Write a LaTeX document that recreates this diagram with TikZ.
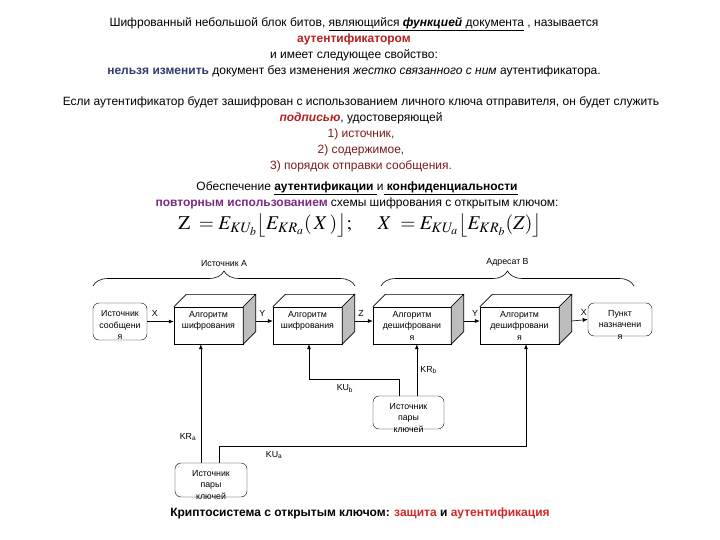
\documentclass[tikz,border=0pt]{standalone}
\usepackage{mathptmx}
\usepackage{fontspec}
\setmainfont{Liberation Sans}
\usepackage{tikz}
\usetikzlibrary{arrows.meta,positioning,calc,decorations.pathreplacing}
\definecolor{authred}{HTML}{B52020}
\definecolor{navy}{HTML}{2E3A6E}
\definecolor{maroon}{HTML}{7A1A1A}
\definecolor{violet}{HTML}{7B2A84}
\definecolor{capred}{HTML}{D02828}
\definecolor{sidegray}{HTML}{BDBDBD}
\newcommand{\sub}[1]{\textsubscript{#1}}

\begin{document}
\begin{tikzpicture}[x=1pt,y=-1pt,>={Latex[length=5pt,width=4pt]},
  para/.style={align=center,inner sep=0pt,font=\fontsize{12}{16}\selectfont},
  diag/.style={font=\fontsize{8.8}{11.5}\selectfont},
  front/.style={draw,fill=white,minimum width=#1,minimum height=37pt,inner sep=0pt},
  rbox/.style={draw,rounded corners=6pt,minimum width=#1,inner sep=0pt},
  boxtext/.style={diag,align=center,inner sep=0pt},
  conn/.style={line width=0.6pt},
  brc/.style={decorate,decoration={brace,amplitude=15pt},line width=0.6pt}]
\useasboundingbox (0,0) rectangle (720,540);
% 3D block: front face, top face, shaded side face
\newcommand{\algobox}[5]{%
  \node[front=#4] (#1) at (#2,#3) {};
  \draw[conn] (#1.north west) -- ++(12.5,-12.5) -- ($(#1.north east)+(12.5,-12.5)$) -- (#1.north east);
  \filldraw[conn,fill=sidegray] (#1.north east) -- ++(12.5,-12.5) -- ($(#1.south east)+(12.5,-12.5)$) -- (#1.south east) -- cycle;
  \node[boxtext,anchor=north] (#1t) at ($(#1.north)+(0,4)$) {#5};}

% text above the diagram
\node[para,anchor=north] (intro) at (354,17) {Шифрованный небольшой блок битов, \underline{являющийся \textbf{\textit{функцией}} документа} , называется\\
  \textcolor{authred}{\textbf{аутентификатором}}\\
  и имеет следующее свойство:\\
  \textcolor{navy}{\textbf{нельзя изменить}} документ без изменения \textit{жестко связанного с ним} аутентификатора.};
\node[para,anchor=north] (sign) at (361,96) {Если аутентификатор будет зашифрован с использованием личного ключа отправителя, он будет служить\\
  \textcolor{authred}{\textbf{\textit{подписью}}}, удостоверяющей\\
  \textcolor{maroon}{1) источник,}\\
  \textcolor{maroon}{2) содержимое,}\\
  \textcolor{maroon}{3) порядок отправки сообщения.}};
\node[para,anchor=north] (reuse) at (357,181) {Обеспечение \underline{\textbf{аутентификации }}и\underline{ \textbf{конфиденциальности}}\\
  \textcolor{violet}{\textbf{повторным использованием}} схемы шифрования с открытым ключом:};
\node[inner sep=0pt,font=\fontsize{19.5}{20}\selectfont] (formula) at (360,225)
  {$\mathrm{Z}\; =E_{KU_b}\bigl\lfloor E_{KR_a}(\,X\,)\bigr\rfloor;\quad\; X\; =E_{KU_a}\bigl\lfloor E_{KR_b}(Z)\bigr\rfloor$};

% braces
\draw[brc] (93,286) -- (355,286) node[midway,above=16pt,diag] (srcA) {Источник А};
\draw[brc] (381,286) -- (634,286) node[midway,above=16pt,diag] (dstB) {Адресат В};

% main chain
\node[rbox=54pt,minimum height=37pt] (src) at (120,321.5) {};
\node[boxtext] (srct) at (120,325) {Источник\\сообщени\\я};
\algobox{enc1}{208.5}{325.5}{69pt}{Алгоритм\\шифрования}
\algobox{enc2}{307.5}{325.5}{69pt}{Алгоритм\\шифрования}
\algobox{dec1}{412}{325.5}{78pt}{Алгоритм\\дешифровани\\я}
\algobox{dec2}{519.5}{325.5}{79pt}{Алгоритм\\дешифровани\\я}
\node[rbox=64pt,minimum height=33pt] (dst) at (620,319.5) {};
\node[boxtext] (dstt) at (620,324.5) {Пункт\\назначени\\я};

\draw[conn,->] (src.east) -- (src.east -| enc1.west) node[pos=0,above right=1pt and 1pt,diag] {X};
\draw[conn,->] ($(enc1.east)+(12.5,-4.5)$) -- ($(enc2.west)+(0,-4.5)$) node[pos=0,above right=1pt and 0pt,diag] {Y};
\draw[conn,->] ($(enc2.east)+(12.5,-4.5)$) -- ($(dec1.west)+(0,-4.5)$) node[pos=0,above right=1pt and 0pt,diag] {Z};
\draw[conn,->] ($(dec1.east)+(12.5,-4.5)$) -- ($(dec2.west)+(0,-4.5)$) node[pos=0.3,above right=1pt and 0pt,diag] {Y};
\draw[conn,->] ($(dec2.east)+(12.5,-4.5)$) -- (dst.west |- dst.east) node[pos=0.35,above right=1pt and 0pt,diag] {X};

% key sources
\node[rbox=71pt,minimum height=33pt] (keyB) at (408.5,412.5) {};
\node[boxtext] (keyBt) at (408.5,418) {Источник\\пары\\ключей};
\node[rbox=72pt,minimum height=34pt] (keyA) at (211,480) {};
\node[boxtext] (keyAt) at (211,485) {Источник\\пары\\ключей};

\coordinate (kra) at ($(keyA.north west)+(26,0)$);
\coordinate (kua) at ($(keyA.north west)+(44,0)$);
\coordinate (kub) at ($(keyB.north west)+(26,0)$);
\coordinate (krb) at ($(keyB.north west)+(44,0)$);
\draw[conn,->] (kra) -- (kra |- enc1.south) node[pos=0.22,left=1pt,diag] {KR\sub{a}};
\draw[conn,->] (kua) -- ++(0,-17) -| ($(dec2.south)+(6.5,0)$) node[pos=0.09,below=2pt,diag] {KU\sub{a}};
\draw[conn,->] (kub) -- ++(0,-17) -| ($(enc2.south)+(1.5,0)$) node[pos=0.3,below=2pt,diag] {KU\sub{b}};
\draw[conn,->] (krb) -- (krb |- dec1.south) node[pos=0.5,right=0pt,diag] {KR\sub{b}};

% caption
\node[inner sep=0pt,font=\fontsize{12}{14}\selectfont\bfseries] (caption) at (360,513)
  {Криптосистема с открытым ключом: \textcolor{capred}{защита} и \textcolor{capred}{аутентификация}};
\end{tikzpicture}
\end{document}
